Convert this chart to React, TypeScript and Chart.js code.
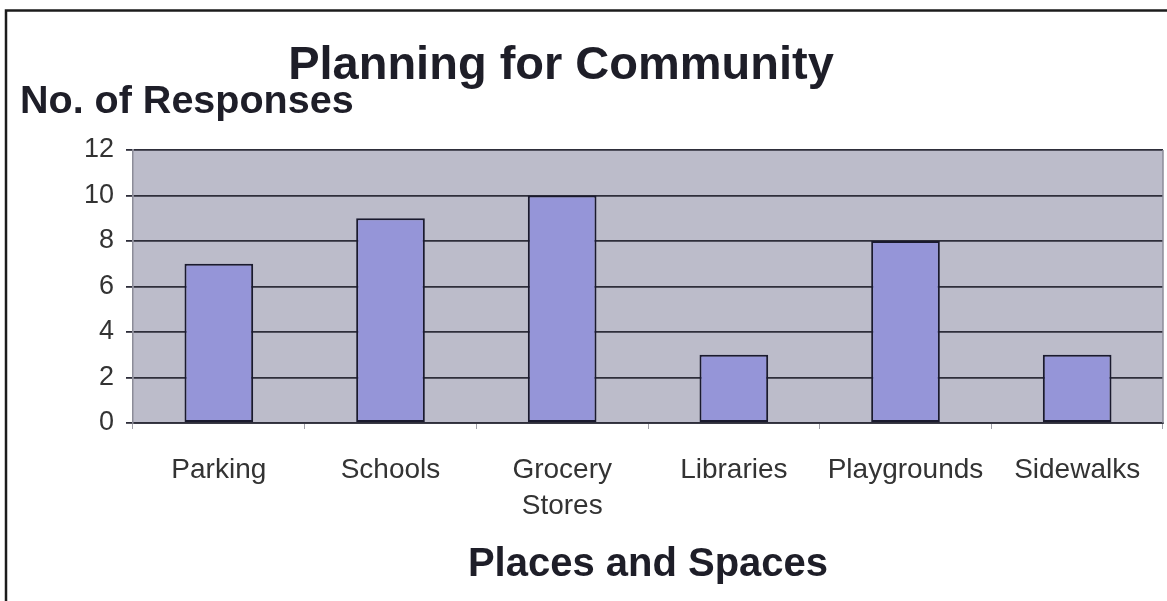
import React, { useEffect, useRef } from "react";
import { Chart, registerables } from "chart.js";

Chart.register(...registerables);

const categories: (string | string[])[] = [
  "Parking",
  "Schools",
  ["Grocery", "Stores"],
  "Libraries",
  "Playgrounds",
  "Sidewalks",
];
const responses: number[] = [7, 9, 10, 3, 8, 3];
const chartTitle = "Planning for Community";
const yAxisTitle = "No. of Responses";
const xAxisTitle = "Places and Spaces";

const FONT = '"Liberation Sans", Arial, Helvetica, sans-serif';

const decorPlugin = {
  id: "decor",
  beforeDraw(chart: any) {
    const { ctx, chartArea, width, height } = chart;
    ctx.save();
    ctx.fillStyle = "#ffffff";
    ctx.fillRect(0, 0, width, height);
    ctx.fillStyle = "#bcbcca";
    ctx.fillRect(chartArea.left, chartArea.top, chartArea.right - chartArea.left, chartArea.bottom - chartArea.top);
    ctx.restore();
  },
  afterDraw(chart: any) {
    const { ctx, chartArea, width, height } = chart;
    ctx.save();
    ctx.strokeStyle = "#8c8c98";
    ctx.lineWidth = 1.5;
    ctx.beginPath();
    ctx.moveTo(chartArea.right, chartArea.top);
    ctx.lineTo(chartArea.right, chartArea.bottom);
    ctx.stroke();
    ctx.strokeStyle = "#1c1c1c";
    ctx.lineWidth = 2.5;
    ctx.beginPath();
    ctx.moveTo(width, 10.5);
    ctx.lineTo(6, 10.5);
    ctx.lineTo(6, height);
    ctx.stroke();
    ctx.fillStyle = "#1e1e28";
    ctx.textBaseline = "alphabetic";
    ctx.font = `bold 47px ${FONT}`;
    ctx.textAlign = "center";
    ctx.fillText(chartTitle, 561, 79);
    ctx.font = `bold 39.5px ${FONT}`;
    ctx.textAlign = "left";
    ctx.fillText(yAxisTitle, 20, 113);
    ctx.restore();
  },
};

export default function App() {
  const ref = useRef<HTMLCanvasElement | null>(null);

  useEffect(() => {
    document.body.style.margin = "0";
    if (!ref.current) return;
    const chart = new Chart(ref.current, {
      type: "bar",
      data: {
        labels: categories,
        datasets: [
          {
            label: yAxisTitle,
            data: responses,
            backgroundColor: "#9595d8",
            borderColor: "#1a1a2e",
            borderWidth: 2,
            borderSkipped: false,
            categoryPercentage: 1,
            barPercentage: 0.4,
          },
        ],
      },
      options: {
        animation: false,
        responsive: false,
        maintainAspectRatio: false,
        layout: { padding: { top: 150, left: 0, right: 4, bottom: 0 } },
        plugins: {
          legend: { display: false },
          title: { display: false },
          tooltip: { enabled: false },
        },
        scales: {
          x: {
            offset: true,
            afterFit: (s: any) => {
              s.height = 178;
            },
            grid: {
              offset: true,
              drawOnChartArea: false,
              drawTicks: true,
              tickLength: 6,
              color: "#a0a0a8",
              lineWidth: 1,
            },
            border: { display: true, color: "#2e2e3a", width: 1.8 },
            ticks: {
              color: "#333333",
              padding: 23,
              font: { family: FONT, size: 28, lineHeight: 1.3 },
              maxRotation: 0,
              autoSkip: false,
            },
            title: {
              display: true,
              text: xAxisTitle,
              color: "#1e1e28",
              font: { family: FONT, size: 40, weight: "bold", lineHeight: 1.2 },
              padding: { top: 0, bottom: 12 },
            },
          },
          y: {
            min: 0,
            max: 12,
            afterFit: (s: any) => {
              s.width = 133;
            },
            grid: {
              color: "#2e2e3a",
              lineWidth: 1.8,
              drawTicks: true,
              tickLength: 7,
            },
            border: { display: true, color: "#8c8c98", width: 1.5 },
            ticks: {
              stepSize: 2,
              color: "#333333",
              padding: 12,
              font: { family: FONT, size: 27 },
            },
          },
        },
      },
      plugins: [decorPlugin],
    });
    return () => chart.destroy();
  }, []);

  return (
    <div style={{ width: 1167, height: 601, position: "relative" }}>
      <canvas ref={ref} width={1167} height={601} style={{ display: "block", width: 1167, height: 601 }} />
    </div>
  );
}
